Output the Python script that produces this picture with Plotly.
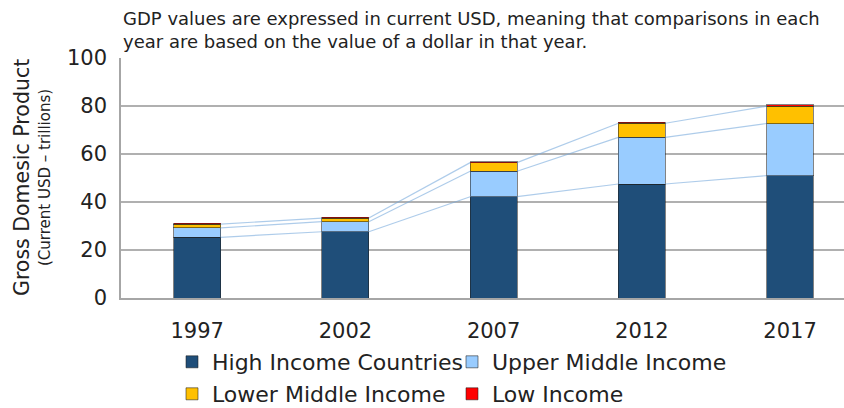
import plotly.graph_objects as go

# GDP by income group, current USD (trillions)
years = [1997, 2002, 2007, 2012, 2017]
high_income = [25.3, 27.6, 42.2, 47.5, 51.0]
upper_middle = [3.9, 4.2, 10.6, 19.4, 21.7]
lower_middle = [1.6, 1.5, 3.6, 5.9, 7.2]
low_income = [0.3, 0.3, 0.4, 0.5, 0.6]

# (name, values, colour, legend row)
series = [
    ("High Income Countries", high_income, "#1f4e79", "legend"),
    ("Upper Middle Income", upper_middle, "#99ccff", "legend"),
    ("Lower Middle Income", lower_middle, "#ffc000", "legend2"),
    ("Low Income", low_income, "#ff0000", "legend2"),
]

FONT = "DejaVu Sans"
BAR_W = 1.58  # in years
fig = go.Figure()

# connector lines between the tops of the stacked segments
cum = [0.0] * len(years)
for name, vals, color, _ in series[:3]:
    cum = [c + v for c, v in zip(cum, vals)]
    xs, ys = [], []
    for i in range(len(years) - 1):
        xs += [years[i] + BAR_W / 2, years[i + 1] - BAR_W / 2, None]
        ys += [cum[i], cum[i + 1], None]
    fig.add_trace(go.Scatter(
        x=xs, y=ys, mode="lines", showlegend=False, hoverinfo="skip",
        line=dict(color="rgba(120,170,220,0.6)", width=1.2),
    ))

for name, vals, color, leg in series:
    fig.add_trace(go.Bar(
        x=years, y=vals, name=name, width=BAR_W, legend=leg,
        marker=dict(color=color, line=dict(color="rgba(30,30,30,0.55)", width=1)),
    ))

legend_common = dict(
    orientation="h", xref="container", yref="container",
    x=172 / 844, xanchor="left", yanchor="top",
    traceorder="normal", font=dict(size=22, family=FONT, color="#222222"),
    entrywidth=235, entrywidthmode="pixels", itemclick=False,
    bgcolor="rgba(0,0,0,0)",
)

fig.update_layout(
    width=844, height=408,
    margin=dict(l=121, r=0, t=58, b=110, autoexpand=False),
    barmode="stack",
    plot_bgcolor="white", paper_bgcolor="white",
    font=dict(family=FONT, color="#222222"),
    showlegend=True,
    legend=dict(legend_common, y=1 - 341 / 408),
    legend2=dict(legend_common, y=1 - 373 / 408),
    xaxis=dict(
        range=[years[0] - 2.57, years[-1] + 1.82],
        tickvals=years, ticktext=[str(y) for y in years],
        tickfont=dict(size=21), showgrid=False, zeroline=False,
        showline=True, linecolor="#a6a6a6", linewidth=1.5, ticks="",
        ticklabelstandoff=13,
    ),
    yaxis=dict(
        range=[0, 100], dtick=20, tickfont=dict(size=21),
        showgrid=True, gridcolor="#b0b0b0", gridwidth=1.5,
        zeroline=False, showline=True, linecolor="#a6a6a6", linewidth=1.5,
        ticks="", ticklabelstandoff=8,
    ),
    annotations=[
        dict(text="GDP values are expressed in current USD, meaning that comparisons in each<br>"
                  "year are based on the value of a dollar in that year.",
             xref="paper", yref="paper", x=0, y=1, xanchor="left", yanchor="bottom",
             yshift=4, align="left", showarrow=False, font=dict(size=18, color="#222222")),
        dict(text="Gross Domesic Product", xref="paper", yref="paper", x=0, y=0.5,
             xanchor="center", yanchor="middle", xshift=-99, textangle=-90,
             showarrow=False, font=dict(size=20.5, color="#222222")),
        dict(text="(Current USD \u2013 trillions)", xref="paper", yref="paper", x=0, y=0.5,
             xanchor="center", yanchor="middle", xshift=-76, textangle=-90,
             showarrow=False, font=dict(size=15, color="#222222")),
    ],
)

fig.write_html("out.html")
